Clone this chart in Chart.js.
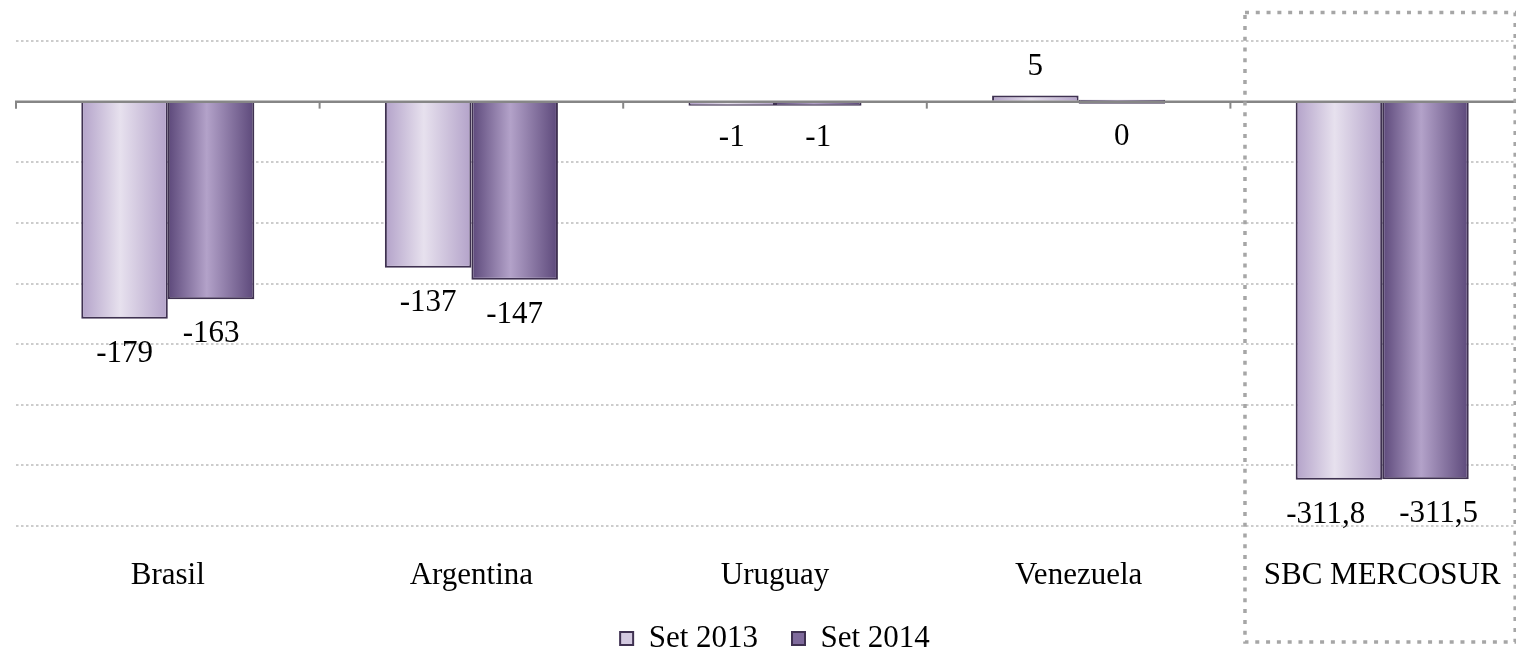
<!DOCTYPE html>
<html>
<head>
<meta charset="utf-8">
<script src="https://cdn.jsdelivr.net/npm/chart.js@4/dist/chart.umd.min.js"></script>
<style>
  html, body { margin: 0; padding: 0; background: #fff; overflow: hidden; }
  #wrap { position: relative; width: 1536px; height: 664px; }
</style>
</head>
<body>
<div id="wrap"><canvas id="chart"></canvas></div>
<script>
'use strict';

var categories = ['Brasil', 'Argentina', 'Uruguay', 'Venezuela', 'SBC MERCOSUR'];
var seriesNames = ['Set 2013', 'Set 2014'];
var set2013 = [-179, -137, -1, 5, -311.8];
var set2014 = [-163, -147, -1, 0, -311.5];
var yTicks = [50, 0, -50, -100, -150, -200, -250, -300, -350];

var shades = [
  {edge: '#b3a2c9', mid: '#e7e1ee', flat: '#d3c9e0'},
  {edge: '#5c487a', mid: '#b3a2c9', flat: '#7f6a9c'}
];
var FONT = '"Liberation Serif", "Times New Roman", serif';

Chart.defaults.font.family = FONT;
Chart.defaults.color = '#000';

var fmt = function(v){
  if (Number.isInteger(v)) return String(v);
  return v.toFixed(1).replace('.', ',');
};


//
//  PLUGINS
//
var barGradients = {
  id: 'barGradients',
  beforeDatasetsDraw: function(chart){
    var ctx = chart.ctx;
    chart.data.datasets.forEach(function(ds, di){
      chart.getDatasetMeta(di).data.forEach(function(bar){
        var left = bar.x - bar.width / 2;
        var g = ctx.createLinearGradient(left, 0, left + bar.width, 0);
        g.addColorStop(0, shades[di].edge);
        g.addColorStop(0.45, shades[di].mid);
        g.addColorStop(1, shades[di].edge);
        bar.options = Object.assign({}, bar.options, {backgroundColor: g});
      });
    });
  }
};

var overlay = {
  id: 'overlay',
  afterDatasetsDraw: function(chart){
    var ctx = chart.ctx;
    var xs = chart.scales.x;
    var ys = chart.scales.y;
    var area = chart.chartArea;
    var zero = ys.getPixelForValue(0);
    var step = xs.getPixelForValue(1) - xs.getPixelForValue(0);

    ctx.save();
    // zero line + category ticks
    ctx.strokeStyle = '#868686';
    ctx.lineWidth = 2.5;
    ctx.beginPath();
    ctx.moveTo(area.left - 1, zero);
    ctx.lineTo(area.right, zero);
    ctx.stroke();
    ctx.lineWidth = 2;
    categories.forEach(function(c, i){
      var bx = xs.getPixelForValue(i) - step / 2;
      ctx.beginPath();
      ctx.moveTo(bx, zero);
      ctx.lineTo(bx, zero + 7);
      ctx.stroke();
    });

    ctx.fillStyle = '#000';
    ctx.font = '31px ' + FONT;
    ctx.textAlign = 'center';
    ctx.textBaseline = 'alphabetic';

    // category names under the plot
    categories.forEach(function(c, i){
      ctx.fillText(c, xs.getPixelForValue(i), area.bottom + 58);
    });

    // value labels, pushed apart when two sit on the same line
    var metas = chart.data.datasets.map(function(ds, di){ return chart.getDatasetMeta(di); });
    categories.forEach(function(c, i){
      var items = chart.data.datasets.map(function(ds, di){
        var v = ds.data[i];
        var py = ys.getPixelForValue(v);
        var text = fmt(v);
        return {text: text, x: metas[di].data[i].x, y: v > 0 ? py - 21 : py + 43, w: ctx.measureText(text).width};
      });
      var a = items[0], b = items[1];
      var need = a.w / 2 + b.w / 2 + 34;
      if (Math.abs(a.y - b.y) < 5 && b.x - a.x < need) {
        var push = (need - (b.x - a.x)) / 2;
        a.x -= push;
        b.x += push;
      }
      items.forEach(function(it){ ctx.fillText(it.text, it.x, it.y); });
    });
    ctx.restore();
  },
  afterDraw: function(chart){
    // dotted frame round the MERCOSUR block
    var ctx = chart.ctx;
    var xs = chart.scales.x;
    var step = xs.getPixelForValue(1) - xs.getPixelForValue(0);
    var cx = xs.getPixelForValue(categories.length - 1);
    ctx.save();
    ctx.strokeStyle = '#a6a6a6';
    ctx.lineWidth = 3.5;
    ctx.setLineDash([4, 6.8]);
    ctx.strokeRect(cx - 0.452 * step, 12.5, 0.89 * step, 629.5);
    ctx.restore();
  }
};


//
//  CHART
//
var createDataSet = function(){
  var series = [set2013, set2014];
  return {
    type: 'bar',
    data: {
      labels: categories,
      datasets: series.map(function(values, i){
        return {
          label: seriesNames[i],
          data: values,
          backgroundColor: shades[i].flat,
          borderColor: '#3f3151',
          borderWidth: 2,
          minBarLength: 4,
          categoryPercentage: 0.57,
          barPercentage: 1
        };
      })
    },
    options: {
      responsive: true,
      maintainAspectRatio: false,
      animation: false,
      devicePixelRatio: 1,
      layout: {padding: {top: 41, left: 16, right: 2, bottom: 0}},
      scales: {
        x: {
          grid: {display: false},
          border: {display: false},
          ticks: {display: false},
          afterFit: function(scale){ scale.height = 63; }
        },
        y: {
          min: yTicks[yTicks.length - 1],
          max: yTicks[0],
          ticks: {display: false, stepSize: yTicks[0] - yTicks[1]},
          grid: {color: '#cccccc', lineWidth: 2, drawTicks: false},
          border: {display: false, dash: [2.5, 2.5]}
        }
      },
      plugins: {
        tooltip: {enabled: false},
        legend: {
          position: 'bottom',
          labels: {
            boxWidth: 13,
            boxHeight: 13,
            padding: 34,
            color: '#000',
            font: {size: 31}
          }
        }
      }
    },
    plugins: [barGradients, overlay]
  };
};

var createChart = function(){
  var canvas = document.getElementById('chart');
  return new Chart(canvas, createDataSet());
};

createChart();
</script>
</body>
</html>
